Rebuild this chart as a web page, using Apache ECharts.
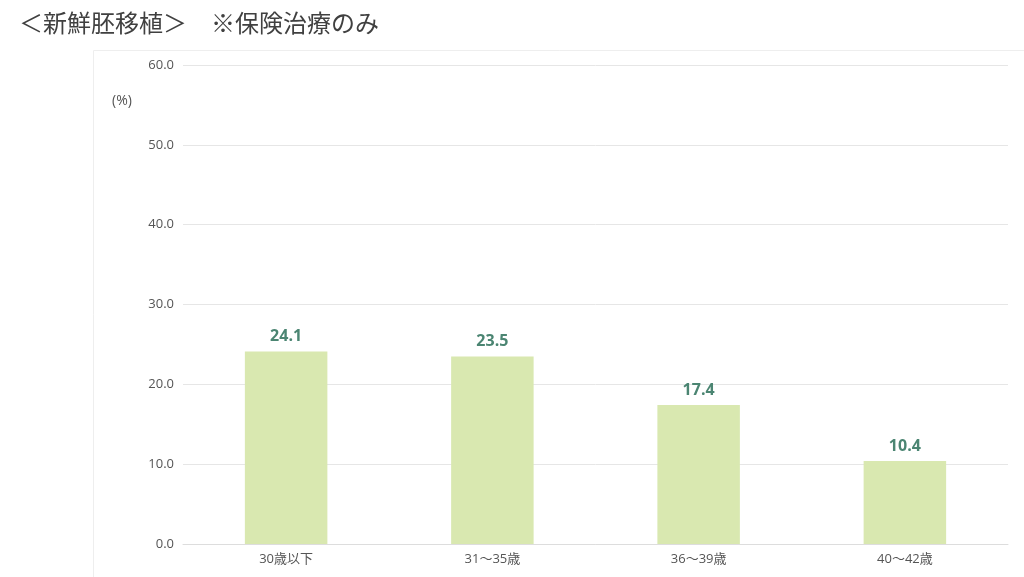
<!DOCTYPE html>
<html><head><meta charset="utf-8">
<script src="https://cdn.jsdelivr.net/npm/echarts@6/dist/echarts.min.js"></script>
<style>html,body{margin:0;padding:0;background:#fff;}#c{width:1024px;height:577px;}</style>
</head><body><div id="c"></div>
<script>
const categories = ['30歳以下', '31～35歳', '36～39歳', '40～42歳'];
const values = [24.1, 23.5, 17.4, 10.4];
const titleText = '＜新鮮胚移植＞　※保険治療のみ';
const unitText = '(%)';

const chart = echarts.init(document.getElementById('c'), null, {renderer: 'canvas'});
const font = '"Noto Sans CJK JP", "Noto Sans", sans-serif';
const numFont = '"Open Sans", "Noto Sans CJK JP", sans-serif';
chart.setOption({
  animation: false,
  backgroundColor: '#fff',
  textStyle: {fontFamily: font},
  title: {
    text: titleText, left: 14, top: 6,
    textStyle: {fontSize: 24, fontWeight: 'normal', color: '#404040', fontFamily: font}
  },
  graphic: [
    {type: 'rect', shape: {x: 93.5, y: 50.5, width: 1000, height: 600},
     style: {fill: 'none', stroke: '#eeeeee', lineWidth: 1}, z: -1},
    {type: 'text', left: 112, top: 94,
     style: {text: unitText, fontSize: 14, fill: '#555', fontFamily: numFont}}
  ],
  grid: {left: 183, right: 16, top: 65, bottom: 33, containLabel: false},
  xAxis: {
    type: 'category', data: categories,
    axisLine: {lineStyle: {color: '#ddd'}},
    axisTick: {show: false},
    axisLabel: {color: '#555', fontSize: 13, margin: 9, fontFamily: numFont}
  },
  yAxis: {
    type: 'value', min: 0, max: 60, interval: 10,
    axisLine: {show: false}, axisTick: {show: false},
    splitLine: {lineStyle: {color: '#e6e6e6'}},
    axisLabel: {color: '#555', fontSize: 13, margin: 9, formatter: v => v.toFixed(1), fontFamily: numFont}
  },
  series: [{
    type: 'bar', data: values, barWidth: '40%',
    itemStyle: {color: '#d9e8b0'},
    label: {show: true, position: 'top', distance: 7, color: '#4b8572', fontSize: 16, fontWeight: 'bold',
            formatter: p => p.value.toFixed(1), fontFamily: numFont}
  }]
});
</script></body></html>
